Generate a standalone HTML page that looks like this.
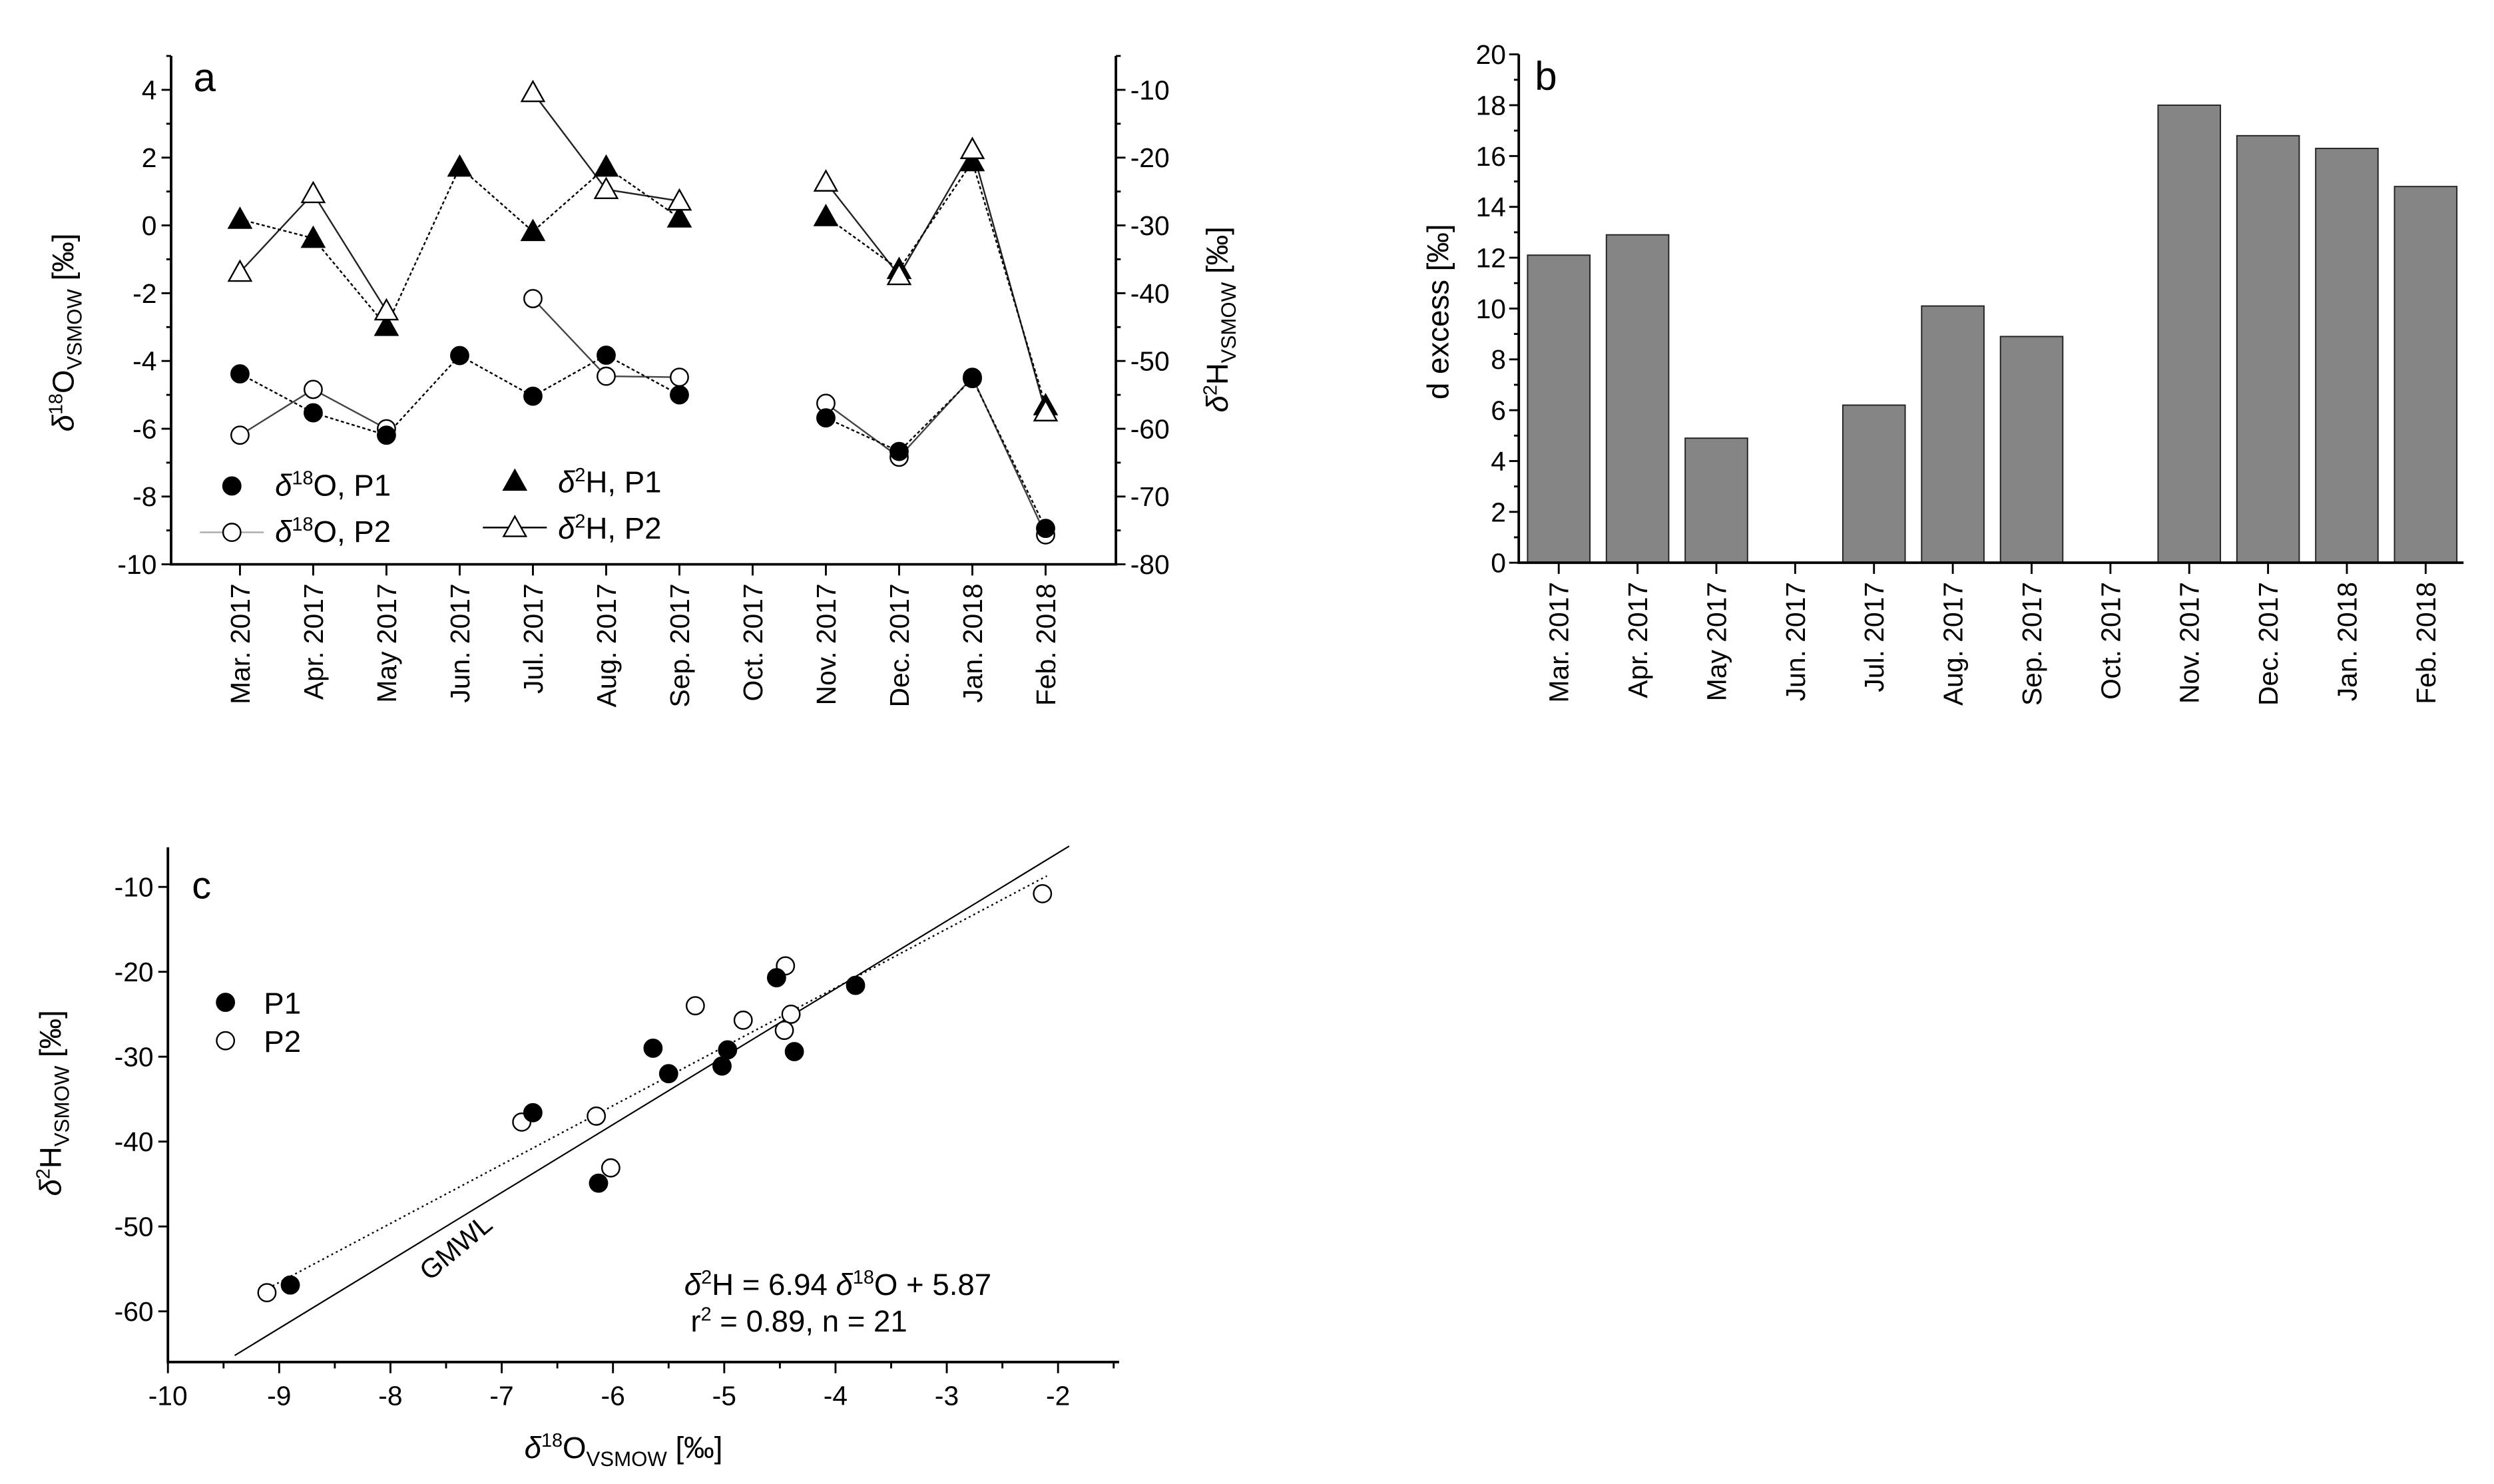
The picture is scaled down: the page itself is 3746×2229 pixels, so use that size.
<!DOCTYPE html>
<html><head><meta charset="utf-8"><style>
html,body{margin:0;padding:0;background:#fff;}
svg{display:block;font-family:"Liberation Sans",sans-serif;}
</style></head><body>
<svg id="fig" width="3746" height="2229" viewBox="0 0 1560 928.3" xmlns="http://www.w3.org/2000/svg">
<rect width="1560" height="928.3" fill="#fff"/>
<g id="pa"></g>
<g id="pb"></g>
<g id="pc"></g>
</svg>
<script>
const months = ["Mar. 2017","Apr. 2017","May 2017","Jun. 2017","Jul. 2017","Aug. 2017","Sep. 2017","Oct. 2017","Nov. 2017","Dec. 2017","Jan. 2018","Feb. 2018"];
const o18P1 = [-4.38,-5.53,-6.19,-3.84,-5.04,-3.83,-5.0,null,-5.68,-6.67,-4.52,-8.94];
const o18P2 = [-6.19,-4.84,-6.0,null,-2.16,-4.45,-4.48,null,-5.25,-6.84,-4.48,-9.13];
const h2P1 = [-29.1,-31.9,-44.9,-21.4,-30.9,-21.4,-28.9,null,-28.7,-36.5,-20.6,-56.6];
const h2P2 = [-36.9,-25.3,-42.6,null,-10.4,-24.7,-26.4,null,-23.6,-37.4,-18.8,-57.5];
const dExcess = [12.1,12.9,4.9,null,6.2,10.1,8.9,null,18.0,16.8,16.3,14.8];
const scP1x = [-5.64,-5.50,-5.02,-4.97,-4.53,-3.82,-4.37,-6.72,-6.13,-8.90];
const scP1y = [-29.0,-32.0,-31.1,-29.2,-20.7,-21.6,-29.4,-36.6,-44.9,-56.9];
const scP2x = [-2.14,-4.45,-5.26,-4.83,-4.40,-4.46,-6.82,-6.15,-6.02,-9.11];
const scP2y = [-10.8,-19.3,-24.0,-25.7,-25.0,-26.9,-37.7,-37.0,-43.1,-57.8];
const oTicks = [4,2,0,-2,-4,-6,-8,-10];
const hTicks = [-10,-20,-30,-40,-50,-60,-70,-80];
const dTicks = [0,2,4,6,8,10,12,14,16,18,20];
const cxTicks = [-10,-9,-8,-7,-6,-5,-4,-3,-2];
const cyTicks = [-10,-20,-30,-40,-50,-60];
const fitSlope = 6.94, fitIntercept = 5.87;

const NS="http://www.w3.org/2000/svg";
function el(parent,tag,attrs,text){const e=document.createElementNS(NS,tag);for(const k in attrs)e.setAttribute(k,attrs[k]);if(text!==undefined)e.textContent=text;parent.appendChild(e);return e;}

/* ---------- Panel A ---------- */
const pa=document.getElementById('pa');
const aL=107,aR=698,aT=35,aB=353;
const ax=i=>aL+(i+1-0.06)*(aR-aL)/12.9;
const ayO=v=>aB-(v+10)*(aB-aT)/15;
const ayH=v=>ayO((v+30)/5);
let e;
e=el(pa,'path',{d:`M${aL},${aT}V${aB}H${aR}V${aT}`,fill:'none',stroke:'#000','stroke-width':1.6});

for(let v=-10;v<=5;v++){const y=ayO(v);el(pa,'line',{x1:aL-(v%2===0?6:3),x2:aL,y1:y,y2:y,stroke:'#000','stroke-width':1.2});}
oTicks.forEach(v=>{e=el(pa,'text',{x:aL-9,y:ayO(v)+6,'text-anchor':'end','font-size':17},String(v));
});
for(let v=-80;v<=-5;v+=5){const y=ayH(v);el(pa,'line',{x1:aR,x2:aR+(v%10===0?6:3),y1:y,y2:y,stroke:'#000','stroke-width':1.2});}
hTicks.forEach(v=>{e=el(pa,'text',{x:aR+9,y:ayH(v)+6,'font-size':17},String(v));
});
months.forEach((m,i)=>{const x=ax(i);el(pa,'line',{x1:x,x2:x,y1:aB,y2:aB+7,stroke:'#000','stroke-width':1.2});
e=el(pa,'text',{x:0,y:0,transform:`translate(${x+6},${aB+12}) rotate(-90)`,'text-anchor':'end','font-size':17},m);
});
e=el(pa,'text',{x:121,y:57,'font-size':25},'a');
e=el(pa,'text',{transform:'translate(46,270) rotate(-90)','font-size':19},'');
e.innerHTML='<tspan font-style="italic">δ</tspan><tspan font-size="12" dy="-7">18</tspan><tspan dy="7">O</tspan><tspan font-size="13" dy="5">VSMOW</tspan><tspan dy="-5"> [‰]</tspan>';

e=el(pa,'text',{transform:'translate(768,258) rotate(-90)','font-size':19},'');
e.innerHTML='<tspan font-style="italic">δ</tspan><tspan font-size="12" dy="-7">2</tspan><tspan dy="7">H</tspan><tspan font-size="13" dy="5">VSMOW</tspan><tspan dy="-5"> [‰]</tspan>';


function series(g,vals,yf,dash,color,name){
  let seg=[];const segs=[];
  vals.forEach((v,i)=>{if(v===null){if(seg.length)segs.push(seg);seg=[];}else seg.push([ax(i),yf(v)]);});
  if(seg.length)segs.push(seg);
  segs.forEach(s=>{if(s.length<2)return;const l=el(g,'polyline',{points:s.map(p=>p.join(',')).join(' '),fill:'none',stroke:color,'stroke-width':1,'stroke-dasharray':dash});
  });
}
function circ(g,x,y,filled,name){const c=el(g,'circle',{cx:x,cy:y,r:5.5,fill:filled?'#000':'#fff',stroke:'#000','stroke-width':1});
return c;}
function tri(g,x,y,filled,name){const t=el(g,'polygon',{points:`${x},${y-7} ${x-7},${y+5.5} ${x+7},${y+5.5}`,fill:filled?'#000':'#fff',stroke:'#000','stroke-width':1});
return t;}
series(pa,h2P2,ayH,'none','#222','h2-p2');
series(pa,h2P1,ayH,'2,1.5','#000','h2-p1');
series(pa,o18P2,ayO,'none','#444','o18-p2');
series(pa,o18P1,ayO,'2,1.5','#000','o18-p1');
o18P2.forEach((v,i)=>{if(v!==null)circ(pa,ax(i),ayO(v),false,'o18-p2-point');});
o18P1.forEach((v,i)=>{if(v!==null)circ(pa,ax(i),ayO(v),true,'o18-p1-point');});
h2P1.forEach((v,i)=>{if(v!==null)tri(pa,ax(i),ayH(v),true,'h2-p1-point');});
h2P2.forEach((v,i)=>{if(v!==null)tri(pa,ax(i),ayH(v),false,'h2-p2-point');});
circ(pa,145,304,true,'legend-o18-p1-marker');
el(pa,'line',{x1:125,x2:165,y1:333,y2:333,stroke:'#aaa','stroke-width':1});
circ(pa,145,333,false,'legend-o18-p2-marker');
tri(pa,322,301,true,'legend-h2-p1-marker');
el(pa,'line',{x1:302,x2:342,y1:330,y2:330,stroke:'#000','stroke-width':1});
tri(pa,322,330,false,'legend-h2-p2-marker');
[[172,310,'18','O, P1','legend-o18-p1'],[172,339,'18','O, P2','legend-o18-p2'],[349,308,'2','H, P1','legend-h2-p1'],[349,337,'2','H, P2','legend-h2-p2']].forEach(a=>{
 e=el(pa,'text',{x:a[0],y:a[1],'font-size':19},'');
 e.innerHTML=`<tspan font-style="italic">δ</tspan><tspan font-size="12" dy="-7">${a[2]}</tspan><tspan dy="7">${a[3]}</tspan>`;
 });

/* ---------- Panel B ---------- */
const pb=document.getElementById('pb');
const bL=950,bR=1541,bT=34,bB=352;
const bStep=49.3;
const bx=i=>bL+25+i*bStep;
const by=v=>bB-v*(bB-bT)/20;
dExcess.forEach((v,i)=>{if(v===null)return;const w=39;
 const r=el(pb,'rect',{x:bx(i)-w/2,y:by(v),width:w,height:bB-by(v),fill:'#858585',stroke:'#222','stroke-width':0.8});
 });
e=el(pb,'path',{d:`M${bL},${bT}V${bB}H${bR}`,fill:'none',stroke:'#000','stroke-width':1.6});

for(let v=0;v<=20;v++){const y=by(v);el(pb,'line',{x1:bL-(v%2===0?6:3),x2:bL,y1:y,y2:y,stroke:'#000','stroke-width':1.2});}
dTicks.forEach(v=>{e=el(pb,'text',{x:bL-8,y:by(v)+6,'text-anchor':'end','font-size':17},String(v));
});
months.forEach((m,i)=>{const x=bx(i);el(pb,'line',{x1:x,x2:x,y1:bB,y2:bB+7,stroke:'#000','stroke-width':1.2});
e=el(pb,'text',{transform:`translate(${x+6},${bB+12}) rotate(-90)`,'text-anchor':'end','font-size':17},m);
});
e=el(pb,'text',{x:960,y:56,'font-size':25},'b');
e=el(pb,'text',{transform:'translate(906,195) rotate(-90)','text-anchor':'middle','font-size':19},'d excess [‰]');


/* ---------- Panel C ---------- */
const pc=document.getElementById('pc');
const cL=105,cR=700,cT=530,cB=852;
const cx=v=>105+(v+10)*69.6;
const cy=v=>554.8-(v+10)*5.31;
e=el(pc,'line',{x1:cx(-9.4),y1:cy(8*-9.4+10),x2:cx(-1.9),y2:cy(8*-1.9+10),stroke:'#000','stroke-width':0.9});

e=el(pc,'line',{x1:cx(-9.1),y1:cy(fitSlope*-9.1+fitIntercept),x2:cx(-2.1),y2:cy(fitSlope*-2.1+fitIntercept),stroke:'#000','stroke-width':1,'stroke-dasharray':'1.2,2'});

e=el(pc,'path',{d:`M${cL},${cT}V${cB}H${cR}`,fill:'none',stroke:'#000','stroke-width':1.6});

for(let v=-10;v<=-1.5;v+=0.5){const x=cx(v);el(pc,'line',{x1:x,x2:x,y1:cB,y2:cB+(Number.isInteger(v)?7:4),stroke:'#000','stroke-width':1.2});}
cxTicks.forEach(v=>{e=el(pc,'text',{x:cx(v),y:cB+27,'text-anchor':'middle','font-size':17},String(v));
});
for(let v=-60;v<=-10;v+=10){const y=cy(v);el(pc,'line',{x1:cL-6,x2:cL,y1:y,y2:y,stroke:'#000','stroke-width':1.2});}
cyTicks.forEach(v=>{e=el(pc,'text',{x:cL-9,y:cy(v)+6,'text-anchor':'end','font-size':17},String(v));
});
scP2x.forEach((v,i)=>{circ(pc,cx(v),cy(scP2y[i]),false,'p2-scatter-point');});
scP1x.forEach((v,i)=>{circ(pc,cx(v),cy(scP1y[i]),true,'p1-scatter-point');});
e=el(pc,'text',{x:120,y:562,'font-size':24},'c');
circ(pc,141,627,true,'legend-p1-marker');circ(pc,141,651,false,'legend-p2-marker');
e=el(pc,'text',{x:165,y:634,'font-size':19},'P1');
e=el(pc,'text',{x:165,y:658,'font-size':19},'P2');
e=el(pc,'text',{transform:`translate(${cx(-7.65)},${cy(-56.5)}) rotate(-40)`,'font-size':17},'GMWL');

e=el(pc,'text',{x:428,y:810,'font-size':19},'');
e.innerHTML='<tspan font-style="italic">δ</tspan><tspan font-size="12" dy="-7">2</tspan><tspan dy="7">H = 6.94 </tspan><tspan font-style="italic">δ</tspan><tspan font-size="12" dy="-7">18</tspan><tspan dy="7">O + 5.87</tspan>';

e=el(pc,'text',{x:432,y:833,'font-size':19},'');
e.innerHTML='r<tspan font-size="12" dy="-7">2</tspan><tspan dy="7"> = 0.89, n = 21</tspan>';

e=el(pc,'text',{x:390,y:912,'text-anchor':'middle','font-size':19},'');
e.innerHTML='<tspan font-style="italic">δ</tspan><tspan font-size="12" dy="-7">18</tspan><tspan dy="7">O</tspan><tspan font-size="13" dy="5">VSMOW</tspan><tspan dy="-5"> [‰]</tspan>';

e=el(pc,'text',{transform:'translate(38,690) rotate(-90)','text-anchor':'middle','font-size':19},'');
e.innerHTML='<tspan font-style="italic">δ</tspan><tspan font-size="12" dy="-7">2</tspan><tspan dy="7">H</tspan><tspan font-size="13" dy="5">VSMOW</tspan><tspan dy="-5"> [‰]</tspan>';

</script>
</body></html>
